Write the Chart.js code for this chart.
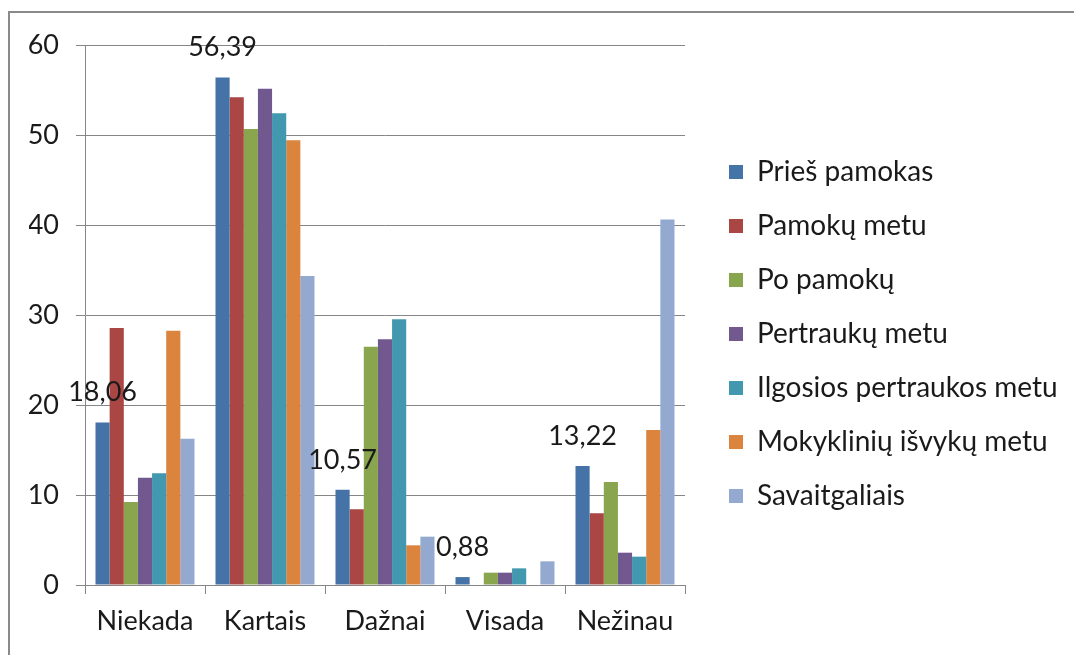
<!DOCTYPE html>
<html>
<head>
<meta charset="utf-8">
<script src="https://cdn.jsdelivr.net/npm/chart.js@4"></script>
<style>
  html, body { margin: 0; padding: 0; background: #fff; }
  #frame { position: absolute; left: 8px; top: 11px; width: 1200px; height: 800px;
           border-left: 2px solid #8a8a8a; border-top: 2px solid #8a8a8a; }
  #wrap { position: absolute; left: 0; top: 0; width: 1074px; height: 655px; }
</style>
</head>
<body>
<div id="frame"></div>
<div id="wrap"><canvas id="chart" width="1074" height="655"></canvas></div>
<script>
// categories and series
var categories = ["Niekada", "Kartais", "Dažnai", "Visada", "Nežinau"];
var seriesNames = ["Prieš pamokas", "Pamokų metu", "Po pamokų", "Pertraukų metu",
                   "Ilgosios pertraukos metu", "Mokyklinių išvykų metu", "Savaitgaliais"];
var priesPamokas   = [18.06, 56.39, 10.57, 0.88, 13.22];
var pamokuMetu     = [28.56, 54.19, 8.41, 0, 7.96];
var poPamoku       = [9.22, 50.67, 26.48, 1.37, 11.44];
var pertraukuMetu  = [11.93, 55.15, 27.30, 1.37, 3.59];
var ilgosiosMetu   = [12.41, 52.41, 29.52, 1.85, 3.15];
var isvykuMetu     = [28.26, 49.41, 4.41, 0, 17.22];
var savaitgaliais  = [16.26, 34.33, 5.37, 2.63, 40.6];
var yTicks = [0, 10, 20, 30, 40, 50, 60];

var colors = ["#4572A7", "#AA4643", "#89A54E", "#71588F", "#4198AF", "#DB843D", "#93A9CF"];
var allSeries = [priesPamokas, pamokuMetu, poPamoku, pertraukuMetu, ilgosiosMetu, isvykuMetu, savaitgaliais];

var FONT = "Lato";
var FS = 27;      // axes and value labels
var LEG_FS = 28;  // legend

// value labels above the first series only
var firstSeriesLabels = {
  id: 'firstSeriesLabels',
  afterDatasetsDraw: function (chart) {
    var ctx = chart.ctx;
    var meta = chart.getDatasetMeta(0);
    ctx.save();
    ctx.font = FS + "px " + FONT;
    ctx.fillStyle = "#1a1a1a";
    ctx.textAlign = "center";
    ctx.textBaseline = "middle";
    meta.data.forEach(function (bar, i) {
      var v = chart.data.datasets[0].data[i];
      ctx.fillText(v.toFixed(2).replace(".", ","), bar.x, bar.y - 30);
    });
    ctx.restore();
  }
};

// keep the legend column where the original had it
var legendPlace = {
  id: 'legendPlace',
  beforeLayout: function (chart) {
    var lg = chart.legend;
    if (lg && !lg._patched) {
      var fit = lg.fit.bind(lg);
      lg.fit = function () { fit(); this.width = 389; };
      lg._patched = true;
    }
  },
  afterLayout: function (chart) {
    var lg = chart.legend;
    var w = lg.width, h = lg.height;
    lg.left = 703; lg.right = lg.left + w;
    lg.top = 132; lg.bottom = lg.top + h;
  }
};

var ctx = document.getElementById('chart').getContext('2d');
new Chart(ctx, {
  type: 'bar',
  data: {
    labels: categories,
    datasets: seriesNames.map(function (name, i) {
      return {
        label: name,
        data: allSeries[i],
        backgroundColor: colors[i],
        borderWidth: 0,
        categoryPercentage: 0.825,
        barPercentage: 1.0
      };
    })
  },
  options: {
    responsive: false,
    animation: false,
    layout: { padding: { top: 45, left: 29, bottom: 18, right: 0 } },
    plugins: {
      tooltip: { enabled: false },
      legend: {
        position: 'right',
        align: 'start',
        labels: {
          boxWidth: 14,
          boxHeight: 14,
          padding: 26,
          color: "#1a1a1a",
          font: { family: FONT, size: LEG_FS }
        }
      }
    },
    scales: {
      x: {
        grid: { drawOnChartArea: false, drawTicks: true, tickLength: 9, color: "#868686", offset: true },
        border: { color: "#868686", width: 1 },
        ticks: { color: "#1a1a1a", font: { family: FONT, size: FS }, padding: 11 },
        afterFit: function (s) { s.height = 52; }
      },
      y: {
        min: 0,
        max: 60,
        afterBuildTicks: function (s) { s.ticks = yTicks.map(function (v) { return { value: v }; }); },
        grid: { color: "#868686", tickLength: 9 },
        border: { color: "#868686", width: 1 },
        ticks: { color: "#1a1a1a", font: { family: FONT, size: FS }, padding: 17 },
        afterFit: function (s) { s.width = 56; }
      }
    }
  },
  plugins: [firstSeriesLabels, legendPlace]
});
</script>
</body>
</html>
